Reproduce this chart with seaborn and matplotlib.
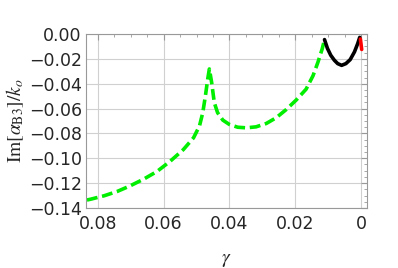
import matplotlib
matplotlib.use("Agg")
import matplotlib.pyplot as plt
import numpy as np
import pandas as pd
import seaborn as sns
from matplotlib.ticker import MultipleLocator, FixedLocator, FixedFormatter

# green branch (dashed)
gamma_green = [0.0833, 0.0821, 0.0781, 0.0741, 0.0701, 0.0660, 0.0620, 0.0580, 0.0540,
               0.0509, 0.0491, 0.0481, 0.0473, 0.0466, 0.0461, 0.0454, 0.0446, 0.0436,
               0.0420, 0.0400, 0.0375, 0.0349, 0.0319, 0.0288, 0.0258, 0.0227, 0.0197,
               0.0167, 0.0146, 0.0131, 0.0118, 0.0111]
im_green = [-0.1336, -0.1329, -0.1302, -0.1267, -0.1221, -0.1167, -0.1106, -0.1024, -0.0930,
            -0.0835, -0.0740, -0.0633, -0.0498, -0.0363, -0.0281, -0.0390, -0.0552, -0.0633,
            -0.0693, -0.0728, -0.0750, -0.0755, -0.0747, -0.0720, -0.0674, -0.0607, -0.0531,
            -0.0444, -0.0336, -0.0227, -0.0119, -0.0045]

# black branch (solid)
gamma_black = [0.0111, 0.0102, 0.0092, 0.0081, 0.0071, 0.0059, 0.0046, 0.0033, 0.0020,
               0.0010, 0.0004]
im_black = [-0.0045, -0.0116, -0.0171, -0.0211, -0.0238, -0.0252, -0.0238, -0.0206, -0.0144,
            -0.0076, -0.0027]

# red branch (solid)
gamma_red = [0.0002, -0.0002]
im_red = [-0.0040, -0.0124]

x_ticks = [0.08, 0.06, 0.04, 0.02, 0.0]
x_labels = ["0.08", "0.06", "0.04", "0.02", "0"]
y_ticks = [0.0, -0.02, -0.04, -0.06, -0.08, -0.10, -0.12, -0.14]
y_labels = ["0.00", "\u22120.02", "\u22120.04", "\u22120.06", "\u22120.08",
            "\u22120.10", "\u22120.12", "\u22120.14"]

sns.set_style("white")
plt.rcParams["font.family"] = ["DejaVu Sans"]
plt.rcParams["mathtext.fontset"] = "stix"

fig = plt.figure(figsize=(3.98, 2.68), dpi=100)
ax = fig.add_axes([0.216, 0.224, 0.706, 0.649])

green_df = pd.DataFrame({"gamma": gamma_green, "im": im_green})
black_df = pd.DataFrame({"gamma": gamma_black, "im": im_black})
red_df = pd.DataFrame({"gamma": gamma_red, "im": im_red})

sns.lineplot(data=green_df, x="gamma", y="im", sort=False, ax=ax, color="#00ee00",
             linewidth=2.6, linestyle=(0, (3, 1.3)))
sns.lineplot(data=black_df, x="gamma", y="im", sort=False, ax=ax, color="black",
             linewidth=2.6)
sns.lineplot(data=red_df, x="gamma", y="im", sort=False, ax=ax, color="red",
             linewidth=2.6)

ax.set_xlim(0.0836, -0.0018)
ax.set_ylim(-0.14, 0.0)

ax.xaxis.set_major_locator(FixedLocator(x_ticks))
ax.xaxis.set_major_formatter(FixedFormatter(x_labels))
ax.yaxis.set_major_locator(FixedLocator(y_ticks))
ax.yaxis.set_major_formatter(FixedFormatter(y_labels))
ax.xaxis.set_minor_locator(MultipleLocator(0.005))
ax.yaxis.set_minor_locator(MultipleLocator(0.005))

ax.grid(True, which="major", color="#d0d0d0", linewidth=0.8)
ax.tick_params(which="both", direction="in", top=True, right=True, color="#999999",
               labelsize=12.5)
ax.tick_params(axis="x", which="major", pad=5)
ax.tick_params(axis="y", which="major", pad=3)
ax.tick_params(which="major", length=4, width=0.8)
ax.tick_params(which="minor", length=2, width=0.6)
for sp in ax.spines.values():
    sp.set_color("#999999")
    sp.set_linewidth(0.8)

ax.set_xlabel(r"$\gamma$", fontsize=14, labelpad=12)
ax.set_ylabel(r"$\mathrm{Im}[\alpha_{\mathrm{B3}}]/k_o$", fontsize=14, labelpad=2)

fig.savefig("out.png", dpi=100)
